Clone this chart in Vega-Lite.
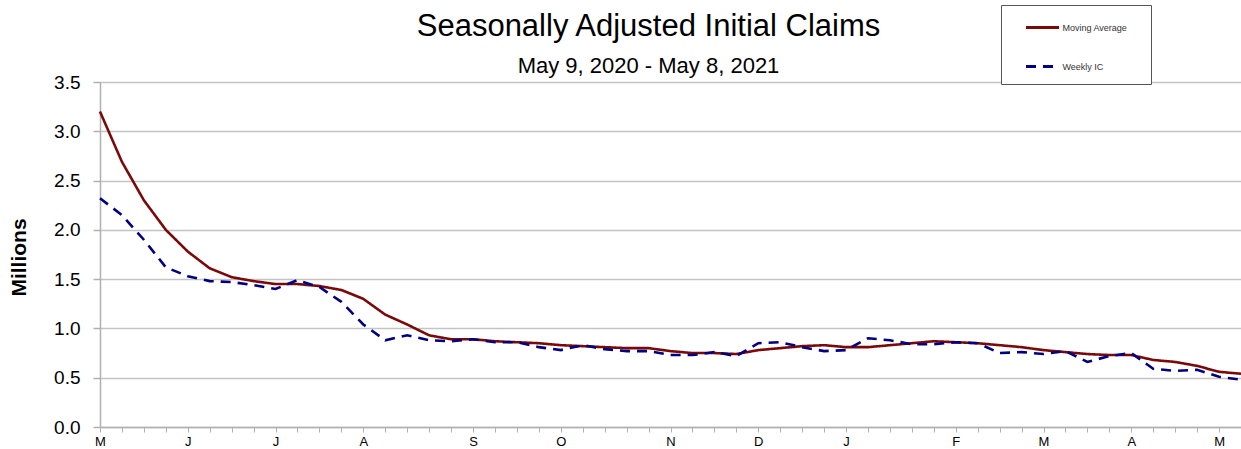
{
  "$schema": "https://vega.github.io/schema/vega-lite/v6.json",
  "autosize": {"type": "none"},
  "padding": {"left": 100, "top": 82, "right": 0, "bottom": 22},
  "width": 1141,
  "height": 345,
  "background": "white",
  "title": {
    "text": "Seasonally Adjusted Initial Claims",
    "subtitle": "May 9, 2020 - May 8, 2021",
    "anchor": "middle",
    "frame": "group",
    "dx": -22,
    "offset": -73,
    "font": "Liberation Sans",
    "fontSize": 31,
    "fontWeight": "normal",
    "color": "#000000",
    "subtitleFont": "Liberation Sans",
    "subtitleFontSize": 22,
    "subtitleColor": "#000000",
    "subtitlePadding": 13
  },
  "datasets": {
    "claims": [
      {"week": "2020-05-09", "series": "Moving Average", "claims": 3.20},
      {"week": "2020-05-16", "series": "Moving Average", "claims": 2.69},
      {"week": "2020-05-23", "series": "Moving Average", "claims": 2.30},
      {"week": "2020-05-30", "series": "Moving Average", "claims": 2.00},
      {"week": "2020-06-06", "series": "Moving Average", "claims": 1.78},
      {"week": "2020-06-13", "series": "Moving Average", "claims": 1.61},
      {"week": "2020-06-20", "series": "Moving Average", "claims": 1.52},
      {"week": "2020-06-27", "series": "Moving Average", "claims": 1.48},
      {"week": "2020-07-04", "series": "Moving Average", "claims": 1.45},
      {"week": "2020-07-11", "series": "Moving Average", "claims": 1.45},
      {"week": "2020-07-18", "series": "Moving Average", "claims": 1.43},
      {"week": "2020-07-25", "series": "Moving Average", "claims": 1.39},
      {"week": "2020-08-01", "series": "Moving Average", "claims": 1.30},
      {"week": "2020-08-08", "series": "Moving Average", "claims": 1.14},
      {"week": "2020-08-15", "series": "Moving Average", "claims": 1.04},
      {"week": "2020-08-22", "series": "Moving Average", "claims": 0.93},
      {"week": "2020-08-29", "series": "Moving Average", "claims": 0.89},
      {"week": "2020-09-05", "series": "Moving Average", "claims": 0.89},
      {"week": "2020-09-12", "series": "Moving Average", "claims": 0.87},
      {"week": "2020-09-19", "series": "Moving Average", "claims": 0.86},
      {"week": "2020-09-26", "series": "Moving Average", "claims": 0.85},
      {"week": "2020-10-03", "series": "Moving Average", "claims": 0.83},
      {"week": "2020-10-10", "series": "Moving Average", "claims": 0.82},
      {"week": "2020-10-17", "series": "Moving Average", "claims": 0.81},
      {"week": "2020-10-24", "series": "Moving Average", "claims": 0.80},
      {"week": "2020-10-31", "series": "Moving Average", "claims": 0.80},
      {"week": "2020-11-07", "series": "Moving Average", "claims": 0.77},
      {"week": "2020-11-14", "series": "Moving Average", "claims": 0.75},
      {"week": "2020-11-21", "series": "Moving Average", "claims": 0.75},
      {"week": "2020-11-28", "series": "Moving Average", "claims": 0.74},
      {"week": "2020-12-05", "series": "Moving Average", "claims": 0.78},
      {"week": "2020-12-12", "series": "Moving Average", "claims": 0.80},
      {"week": "2020-12-19", "series": "Moving Average", "claims": 0.82},
      {"week": "2020-12-26", "series": "Moving Average", "claims": 0.83},
      {"week": "2021-01-02", "series": "Moving Average", "claims": 0.81},
      {"week": "2021-01-09", "series": "Moving Average", "claims": 0.81},
      {"week": "2021-01-16", "series": "Moving Average", "claims": 0.83},
      {"week": "2021-01-23", "series": "Moving Average", "claims": 0.85},
      {"week": "2021-01-30", "series": "Moving Average", "claims": 0.87},
      {"week": "2021-02-06", "series": "Moving Average", "claims": 0.86},
      {"week": "2021-02-13", "series": "Moving Average", "claims": 0.85},
      {"week": "2021-02-20", "series": "Moving Average", "claims": 0.83},
      {"week": "2021-02-27", "series": "Moving Average", "claims": 0.81},
      {"week": "2021-03-06", "series": "Moving Average", "claims": 0.78},
      {"week": "2021-03-13", "series": "Moving Average", "claims": 0.76},
      {"week": "2021-03-20", "series": "Moving Average", "claims": 0.74},
      {"week": "2021-03-27", "series": "Moving Average", "claims": 0.73},
      {"week": "2021-04-03", "series": "Moving Average", "claims": 0.73},
      {"week": "2021-04-10", "series": "Moving Average", "claims": 0.68},
      {"week": "2021-04-17", "series": "Moving Average", "claims": 0.66},
      {"week": "2021-04-24", "series": "Moving Average", "claims": 0.62},
      {"week": "2021-05-01", "series": "Moving Average", "claims": 0.56},
      {"week": "2021-05-08", "series": "Moving Average", "claims": 0.54},
      {"week": "2020-05-09", "series": "Weekly IC", "claims": 2.32},
      {"week": "2020-05-16", "series": "Weekly IC", "claims": 2.15},
      {"week": "2020-05-23", "series": "Weekly IC", "claims": 1.90},
      {"week": "2020-05-30", "series": "Weekly IC", "claims": 1.62},
      {"week": "2020-06-06", "series": "Weekly IC", "claims": 1.53},
      {"week": "2020-06-13", "series": "Weekly IC", "claims": 1.48},
      {"week": "2020-06-20", "series": "Weekly IC", "claims": 1.47},
      {"week": "2020-06-27", "series": "Weekly IC", "claims": 1.44},
      {"week": "2020-07-04", "series": "Weekly IC", "claims": 1.40},
      {"week": "2020-07-11", "series": "Weekly IC", "claims": 1.49},
      {"week": "2020-07-18", "series": "Weekly IC", "claims": 1.42},
      {"week": "2020-07-25", "series": "Weekly IC", "claims": 1.27},
      {"week": "2020-08-01", "series": "Weekly IC", "claims": 1.04},
      {"week": "2020-08-08", "series": "Weekly IC", "claims": 0.88},
      {"week": "2020-08-15", "series": "Weekly IC", "claims": 0.93},
      {"week": "2020-08-22", "series": "Weekly IC", "claims": 0.88},
      {"week": "2020-08-29", "series": "Weekly IC", "claims": 0.87},
      {"week": "2020-09-05", "series": "Weekly IC", "claims": 0.89},
      {"week": "2020-09-12", "series": "Weekly IC", "claims": 0.86},
      {"week": "2020-09-19", "series": "Weekly IC", "claims": 0.86},
      {"week": "2020-09-26", "series": "Weekly IC", "claims": 0.81},
      {"week": "2020-10-03", "series": "Weekly IC", "claims": 0.78},
      {"week": "2020-10-10", "series": "Weekly IC", "claims": 0.83},
      {"week": "2020-10-17", "series": "Weekly IC", "claims": 0.79},
      {"week": "2020-10-24", "series": "Weekly IC", "claims": 0.77},
      {"week": "2020-10-31", "series": "Weekly IC", "claims": 0.77},
      {"week": "2020-11-07", "series": "Weekly IC", "claims": 0.73},
      {"week": "2020-11-14", "series": "Weekly IC", "claims": 0.73},
      {"week": "2020-11-21", "series": "Weekly IC", "claims": 0.76},
      {"week": "2020-11-28", "series": "Weekly IC", "claims": 0.72},
      {"week": "2020-12-05", "series": "Weekly IC", "claims": 0.85},
      {"week": "2020-12-12", "series": "Weekly IC", "claims": 0.86},
      {"week": "2020-12-19", "series": "Weekly IC", "claims": 0.81},
      {"week": "2020-12-26", "series": "Weekly IC", "claims": 0.77},
      {"week": "2021-01-02", "series": "Weekly IC", "claims": 0.78},
      {"week": "2021-01-09", "series": "Weekly IC", "claims": 0.90},
      {"week": "2021-01-16", "series": "Weekly IC", "claims": 0.88},
      {"week": "2021-01-23", "series": "Weekly IC", "claims": 0.84},
      {"week": "2021-01-30", "series": "Weekly IC", "claims": 0.84},
      {"week": "2021-02-06", "series": "Weekly IC", "claims": 0.86},
      {"week": "2021-02-13", "series": "Weekly IC", "claims": 0.85},
      {"week": "2021-02-20", "series": "Weekly IC", "claims": 0.75},
      {"week": "2021-02-27", "series": "Weekly IC", "claims": 0.76},
      {"week": "2021-03-06", "series": "Weekly IC", "claims": 0.74},
      {"week": "2021-03-13", "series": "Weekly IC", "claims": 0.77},
      {"week": "2021-03-20", "series": "Weekly IC", "claims": 0.66},
      {"week": "2021-03-27", "series": "Weekly IC", "claims": 0.72},
      {"week": "2021-04-03", "series": "Weekly IC", "claims": 0.75},
      {"week": "2021-04-10", "series": "Weekly IC", "claims": 0.59},
      {"week": "2021-04-17", "series": "Weekly IC", "claims": 0.57},
      {"week": "2021-04-24", "series": "Weekly IC", "claims": 0.58},
      {"week": "2021-05-01", "series": "Weekly IC", "claims": 0.51},
      {"week": "2021-05-08", "series": "Weekly IC", "claims": 0.48}
    ]
  },
  "data": {"name": "claims"},
  "mark": {"type": "line", "strokeWidth": 2.6, "clip": false},
  "encoding": {
    "x": {
      "field": "week",
      "type": "ordinal",
      "scale": {"type": "point", "padding": 0},
      "axis": {
        "title": null,
        "labelAngle": 0,
        "labelExpr": "(toNumber(slice(datum.value, 8, 10)) <= 7 || datum.value == '2020-05-09') ? slice('JFMAMJJASOND', toNumber(slice(datum.value, 5, 7)) - 1, toNumber(slice(datum.value, 5, 7))) : ''",
        "labelFont": "Liberation Sans",
        "labelFontSize": 13,
        "labelColor": "#000000",
        "labelPadding": 3,
        "labelOverlap": false,
        "labelBound": false,
        "labelFlush": false,
        "tickSize": 5,
        "tickColor": "#b0b0b0",
        "tickWidth": 1,
        "domainColor": "#b0b0b0",
        "domainWidth": 1.5,
        "grid": false
      }
    },
    "y": {
      "field": "claims",
      "type": "quantitative",
      "scale": {"domain": [0, 3.5], "nice": false, "zero": true},
      "axis": {
        "title": "Millions",
        "titleFont": "Liberation Sans",
        "titleFontSize": 21,
        "titleFontWeight": "bold",
        "titleColor": "#000000",
        "titleAngle": -90,
        "titleX": -81,
        "titleY": 175,
        "titleBaseline": "middle",
        "titleAlign": "center",
        "values": [0, 0.5, 1, 1.5, 2, 2.5, 3, 3.5],
        "format": ".1f",
        "labelFont": "Liberation Sans",
        "labelFontSize": 19,
        "labelColor": "#000000",
        "labelPadding": 13,
        "labelBound": false,
        "labelFlush": false,
        "tickSize": 7,
        "tickColor": "#b0b0b0",
        "tickWidth": 1.5,
        "domainColor": "#b0b0b0",
        "domainWidth": 1.5,
        "grid": true,
        "gridColor": "#c4c4c4",
        "gridWidth": 1.5
      }
    },
    "color": {
      "field": "series",
      "type": "nominal",
      "scale": {"domain": ["Moving Average", "Weekly IC"], "range": ["#7a0a0a", "#000080"]},
      "legend": {
        "title": " ",
        "titleOrient": "right",
        "titlePadding": 19,
        "titleFontSize": 76,
        "orient": "none",
        "legendX": 901,
        "legendY": -77,
        "direction": "vertical",
        "symbolType": "stroke",
        "symbolSize": 1089,
        "symbolStrokeWidth": 3,
        "symbolOffset": 19,
        "labelFont": "Liberation Sans",
        "labelFontSize": 9,
        "labelColor": "#333333",
        "labelOffset": 2,
        "rowPadding": 15,
        "padding": 4.5,
        "strokeColor": "#555555",
        "fillColor": "#ffffff",
        "cornerRadius": 0
      }
    },
    "strokeDash": {
      "field": "series",
      "type": "nominal",
      "scale": {"domain": ["Moving Average", "Weekly IC"], "range": [[1, 0], [10, 7]]},
      "legend": {
        "title": " ",
        "titleOrient": "right",
        "titlePadding": 19,
        "titleFontSize": 76,
        "orient": "none",
        "legendX": 901,
        "legendY": -77,
        "direction": "vertical",
        "symbolType": "stroke",
        "symbolSize": 1089,
        "symbolStrokeWidth": 3,
        "symbolOffset": 19,
        "labelFont": "Liberation Sans",
        "labelFontSize": 9,
        "labelColor": "#333333",
        "labelOffset": 2,
        "rowPadding": 15,
        "padding": 4.5,
        "strokeColor": "#555555",
        "fillColor": "#ffffff",
        "cornerRadius": 0
      }
    }
  },
  "config": {
    "view": {"stroke": null}
  }
}
